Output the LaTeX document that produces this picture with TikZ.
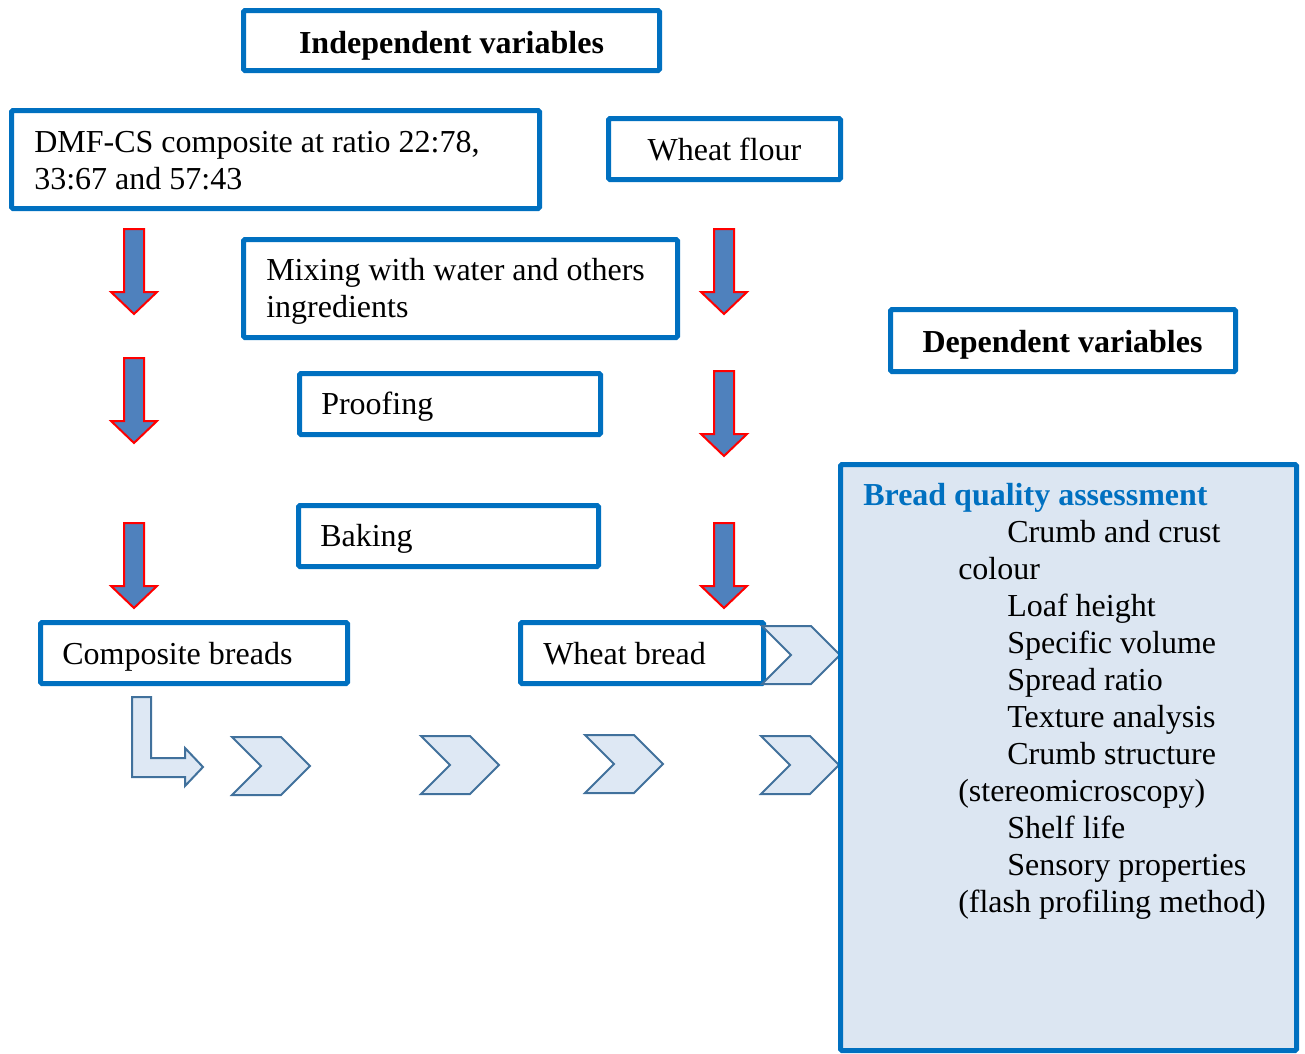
\documentclass[tikz,border=0pt]{standalone}
\usepackage{fontspec}
\setmainfont{Liberation Serif}
\usetikzlibrary{positioning}
\definecolor{boxblue}{HTML}{0070C0}
\definecolor{arrowfill}{HTML}{4F81BD}
\definecolor{chevfill}{HTML}{DEE8F4}
\definecolor{chevline}{HTML}{41719C}
\definecolor{panel}{HTML}{DCE6F2}
\newcommand{\downblock}[2]{\draw[red,line width=1.5pt,fill=arrowfill] (#1-10,#2)--(#1+10,#2)--(#1+10,#2+63)--(#1+23,#2+63)--(#1,#2+85)--(#1-23,#2+63)--(#1-10,#2+63)--cycle;}
\newcommand{\chevronshape}[2]{\draw[chevline,line width=1.5pt,fill=chevfill] (#1,#2)--(#1+49,#2)--(#1+78,#2+29)--(#1+49,#2+58)--(#1,#2+58)--(#1+29,#2+29)--cycle;}
\tikzset{box/.style={draw=boxblue,line width=3.75pt,fill=white,rounded corners=1pt},
  txt/.style={inner sep=0pt,anchor=base west,align=left}}

\begin{document}
\begin{tikzpicture}[x=0.75pt,y=-0.75pt,font=\fontsize{24}{27.75}\selectfont]
\useasboundingbox (0,0) rectangle (1305,1053);
\draw[box] (243.5,10.5) rectangle (659.5,70.5);
\node[inner sep=0pt,anchor=base] (indep) at (451.5,53) {\textbf{Independent variables}};
\draw[box] (11.5,110.5) rectangle (539.5,208.5);
% multi-line texts: base is the last line
\node[txt] (dmf) at (34,189) {DMF-CS composite at ratio 22:78,\\33:67 and 57:43};
\draw[box] (608.5,118.5) rectangle (840.5,179.5);
\node[inner sep=0pt,anchor=base] (flour) at (724.5,160) {Wheat flour};
\draw[box] (243.5,239.5) rectangle (677.5,337.5);
\node[txt] (mixing) at (266,317) {Mixing with water and others\\ingredients};
\draw[box] (299.5,373.5) rectangle (600.5,434.5);
\node[txt] (proofing) at (321,414) {Proofing};
\draw[box] (298.5,505.5) rectangle (598.5,566.5);
\node[txt] (baking) at (320,546) {Baking};
\draw[box] (890.5,309.5) rectangle (1235.5,371.5);
\node[inner sep=0pt,anchor=base] (dep) at (1062.5,352) {\textbf{Dependent variables}};
\draw[box] (40.5,622.5) rectangle (347.5,683.5);
\node[txt] (compbread) at (62,664) {Composite breads};
\draw[box] (520.5,622.5) rectangle (763.5,683.5);
\node[txt] (wheatbread) at (543,664) {Wheat bread};
% block arrows
\downblock{134}{229}\downblock{134}{358}\downblock{134}{523}
\downblock{724}{229}\downblock{724}{371}\downblock{724}{523}
% bent arrow and chevrons
\draw[chevline,line width=1.5pt,fill=chevfill] (132,697)--(151,697)--(151,758)--(185,758)--(185,748)--(203,767)--(185,786)--(185,777)--(132,777)--cycle;
\chevronshape{232}{737}\chevronshape{421}{736}\chevronshape{585}{735}
\chevronshape{761}{736}\chevronshape{762}{626}
\draw[box,fill=panel] (840.5,464.5) rectangle (1296.5,1050.5);
\node[txt] (quality) at (863,912) {\textcolor{boxblue}{\textbf{Bread quality assessment}}\\
\hspace*{108pt}Crumb and crust\\
\hspace*{71.25pt}colour\\
\hspace*{108pt}Loaf height\\
\hspace*{108pt}Specific volume\\
\hspace*{108pt}Spread ratio\\
\hspace*{108pt}Texture analysis\\
\hspace*{108pt}Crumb structure\\
\hspace*{71.25pt}(stereomicroscopy)\\
\hspace*{108pt}Shelf life\\
\hspace*{108pt}Sensory properties\\
\hspace*{71.25pt}(flash profiling method)};
\end{tikzpicture}
\end{document}
